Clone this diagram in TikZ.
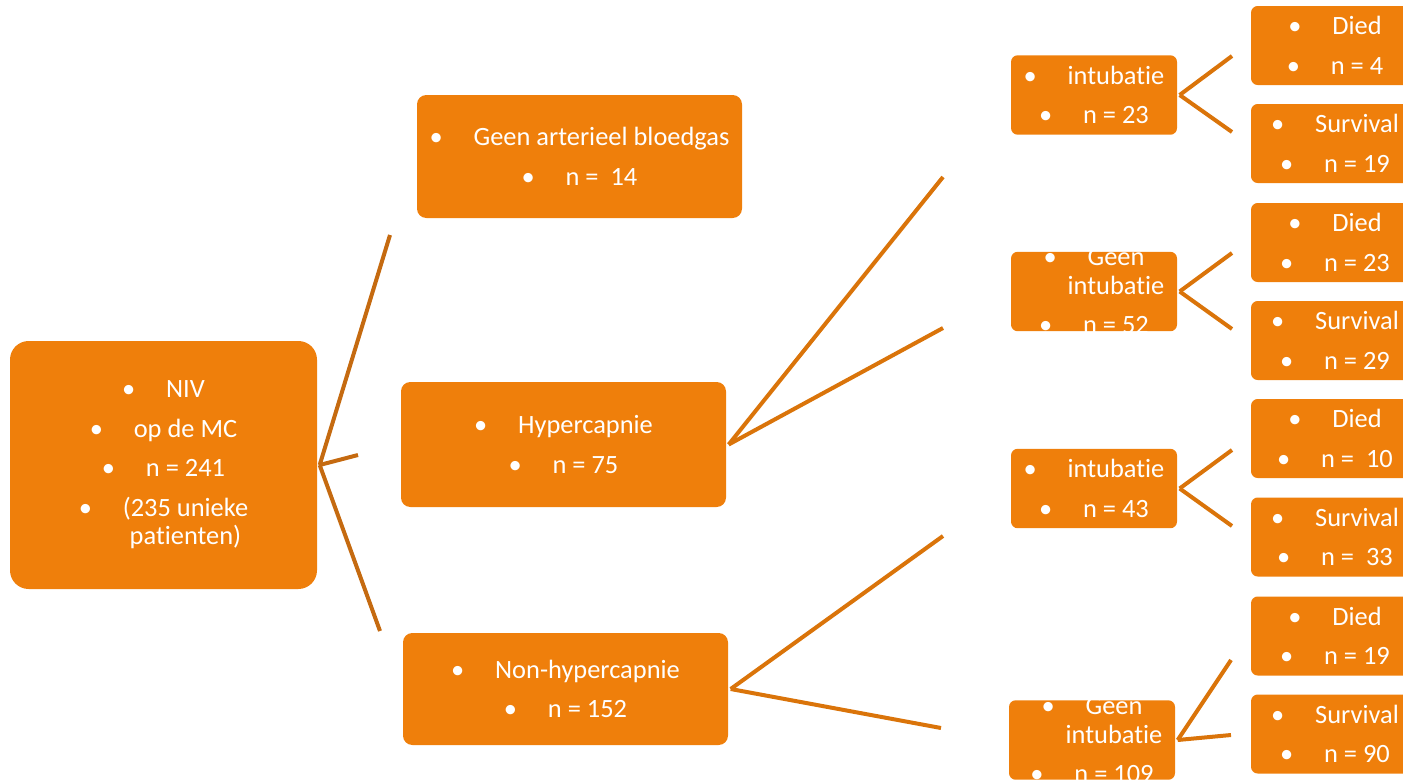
\documentclass[tikz,border=0pt]{standalone}
\usepackage{fontspec}
\setmainfont{Carlito}[Ligatures=NoCommon]
\usetikzlibrary{positioning}

\definecolor{boxorange}{HTML}{EF7F0B}
\definecolor{lineorange}{HTML}{DA740A}
\definecolor{linebrown}{HTML}{C56A10}

\newcommand{\bul}{\makebox[33pt][l]{\textbullet}}
\newcommand{\ind}{\makebox[33pt]{}}
\newcommand{\itemgap}{8.2pt}

\tikzset{
  flowbox/.style={fill=boxorange, inner sep=0pt, outer sep=2pt},
  nivbox/.style={flowbox, rounded corners=14pt, minimum width=230.25pt, minimum height=186pt},
  groupbox/.style={flowbox, rounded corners=7pt, minimum width=243.75pt},
  intbox/.style={flowbox, rounded corners=5pt, minimum width=124.5pt, minimum height=59.6pt},
  endbox/.style={flowbox, rounded corners=5pt, minimum width=126pt, minimum height=59.25pt},
  boxtext/.style={text=white, align=center, inner sep=0pt, font=\fontsize{19.8}{21.4}\selectfont},
  branch/.style={draw=lineorange, line width=3pt}
}

\begin{document}
\begin{tikzpicture}[x=0.75pt, y=-0.75pt]
  \useasboundingbox (0,0) rectangle (1403,782);
  \clip (0,0) rectangle (1403,782);

  % start
  \node[nivbox] (niv) at (163.5,465) {};
  \node[boxtext] (niv-t) at (niv) {\bul NIV\\[\itemgap]\bul op de MC\\[\itemgap]\bul n = 241\\[\itemgap]\bul (235 unieke\\\ind patienten)};

  % bloedgas groups
  \node[groupbox, minimum height=92.25pt] (geenabg) at (579.5,156.5) {};
  \node[boxtext] (geenabg-t) at (geenabg) {\bul Geen arterieel bloedgas\\[\itemgap]\bul n = \ 14};
  \node[groupbox, minimum height=93.75pt] (hyper) at (563.5,444.5) {};
  \node[boxtext] (hyper-t) at (hyper) {\bul Hypercapnie\\[\itemgap]\bul n = 75};
  \node[groupbox, minimum height=84pt] (nonhyper) at (565.5,689) {};
  \node[boxtext] (nonhyper-t) at (nonhyper) {\bul Non-hypercapnie\\[\itemgap]\bul n = 152};

  % intubatie
  \node[intbox] (hint) at (1094,95) {};
  \node[boxtext] (hint-t) at (hint) {\bul intubatie\\[\itemgap]\bul n = 23};
  \node[intbox] (hgeen) at (1094,291.5) {};
  \node[boxtext] (hgeen-t) at (hgeen) {\bul Geen\\\ind intubatie\\[\itemgap]\bul n = 52};
  \node[intbox] (nint) at (1094,488.5) {};
  \node[boxtext] (nint-t) at (nint) {\bul intubatie\\[\itemgap]\bul n = 43};
  \node[intbox] (ngeen) at (1092,740) {};
  \node[boxtext] (ngeen-t) at (ngeen) {\bul Geen\\\ind intubatie\\[\itemgap]\bul n = 109};

  % outcome
  \node[endbox] (hintd) at (1335,45.5) {};
  \node[boxtext] (hintd-t) at (hintd) {\bul Died\\[\itemgap]\bul n = 4};
  \node[endbox] (hints) at (1335,143.5) {};
  \node[boxtext] (hints-t) at (hints) {\bul Survival\\[\itemgap]\bul n = 19};
  \node[endbox] (hgeend) at (1335,242.5) {};
  \node[boxtext] (hgeend-t) at (hgeend) {\bul Died\\[\itemgap]\bul n = 23};
  \node[endbox] (hgeens) at (1335,340.5) {};
  \node[boxtext] (hgeens-t) at (hgeens) {\bul Survival\\[\itemgap]\bul n = 29};
  \node[endbox] (nintd) at (1335,438.5) {};
  \node[boxtext] (nintd-t) at (nintd) {\bul Died\\[\itemgap]\bul n = \ 10};
  \node[endbox] (nints) at (1335,537) {};
  \node[boxtext] (nints-t) at (nints) {\bul Survival\\[\itemgap]\bul n = \ 33};
  \node[endbox] (ngeend) at (1335,636) {};
  \node[boxtext] (ngeend-t) at (ngeend) {\bul Died\\[\itemgap]\bul n = 19};
  \node[endbox] (ngeens) at (1335,734) {};
  \node[boxtext] (ngeens-t) at (ngeens) {\bul Survival\\[\itemgap]\bul n = 90};

  % free ends of the branches
  \coordinate (niv1) at (390,235);
  \coordinate (niv2) at (358,455);
  \coordinate (niv3) at (380,631);
  \coordinate (hyper1) at (943,177);
  \coordinate (hyper2) at (943,328);
  \coordinate (nonhyper1) at (943,536);
  \coordinate (nonhyper2) at (941,728);
  \coordinate (hint1) at (1232,56);
  \coordinate (hint2) at (1232,132);
  \coordinate (hgeen1) at (1232,253);
  \coordinate (hgeen2) at (1232,329);
  \coordinate (nint1) at (1232,450);
  \coordinate (nint2) at (1232,526);
  \coordinate (ngeen1) at (1231,660);
  \coordinate (ngeen2) at (1231,735);

  \foreach \e in {niv1,niv2,niv3}
    \draw[branch, draw=linebrown] (niv.east) -- (\e);
  \foreach \s in {hyper,nonhyper,hint,hgeen,nint,ngeen}{
    \draw[branch] (\s.east) -- (\s1);
    \draw[branch] (\s.east) -- (\s2);
  }
\end{tikzpicture}
\end{document}
